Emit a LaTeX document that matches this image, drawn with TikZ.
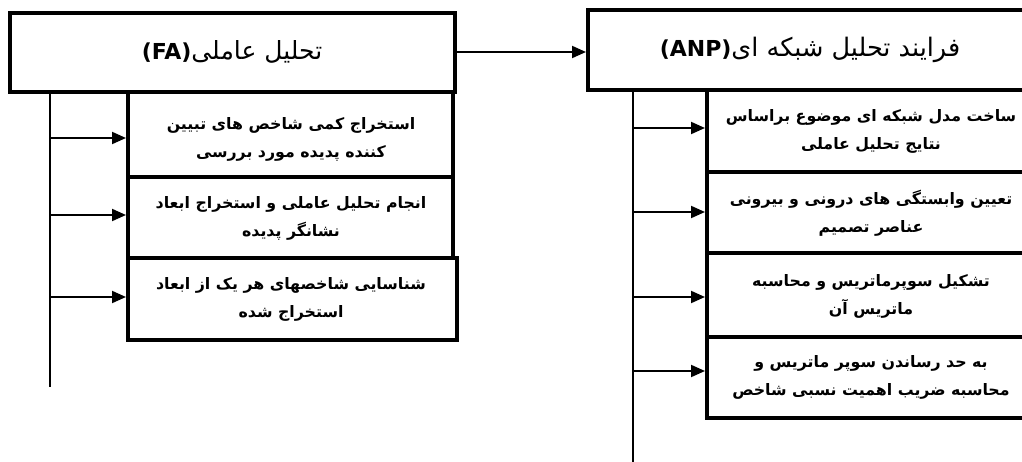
\documentclass[tikz,border=0pt]{standalone}
\usepackage{fontspec}
\usetikzlibrary{arrows.meta}
\TeXXeTstate=1
\newfontfamily\arabicfont[Script=Arabic]{DejaVu Sans}
\newfontfamily\latinfont{DejaVu Sans}
\begin{document}
\begin{tikzpicture}[x=1pt,y=-1pt,
  box/.style={draw, line width=4pt, inner sep=0pt, outer sep=0pt, anchor=north west},
  txt/.style={align=center, inner sep=0pt, font=\arabicfont\bfseries\fontsize{15.8}{28}\selectfont},
  ttl/.style={inner sep=0pt},
  conn/.style={line width=2pt, -{Triangle[length=14pt,width=12pt]}, shorten >=2pt},
  spine/.style={line width=2.6pt}]
\useasboundingbox (0,0) rectangle (1022,462);
\clip (0,0) rectangle (1022,462);
% left column
\node[box, minimum width=445pt, minimum height=79pt] (lt) at (10,13) {};
\node[ttl] (ltx) at (232,52) {{\latinfont\bfseries\fontsize{22}{26}\selectfont (FA)}{\arabicfont\fontsize{25}{28}\selectfont\beginR تحلیل عاملی\endR}};
\node[box, minimum width=325pt, minimum height=85pt] (l1) at (128,92) {};
\node[box, minimum width=325pt, minimum height=81pt] (l2) at (128,177) {};
\node[box, minimum width=329pt, minimum height=82pt] (l3) at (128,258) {};
\node[txt] (l1t) at (291,139) {\beginR استخراج کمی شاخص های تبیین\endR\\\beginR کننده پدیده مورد بررسی\endR};
\node[txt] (l2t) at (291,218) {\beginR انجام تحلیل عاملی و استخراج ابعاد\endR\\\beginR نشانگر پدیده\endR};
\node[txt] (l3t) at (291,299) {\beginR شناسایی شاخصهای هر یک از ابعاد\endR\\\beginR استخراج شده\endR};
\coordinate (lbot) at (50,387);
\coordinate (la1) at (50,138);
\coordinate (la2) at (50,215);
\coordinate (la3) at (50,297);
\draw[spine] (lt.south -| lbot) -- (lbot);
\draw[conn] (la1) -- (l1.west |- la1);
\draw[conn] (la2) -- (l2.west |- la2);
\draw[conn] (la3) -- (l3.west |- la3);
% right column
\node[box, minimum width=446pt, minimum height=80pt] (rt) at (588,10) {};
\node[ttl] (rtx) at (810,50) {{\latinfont\bfseries\fontsize{22}{26}\selectfont (ANP)}{\arabicfont\fontsize{25.5}{28}\selectfont\beginR فرایند تحلیل شبکه ای\endR}};
\node[box, minimum width=330pt, minimum height=82pt] (r1) at (707,90) {};
\node[box, minimum width=330pt, minimum height=81pt] (r2) at (707,172) {};
\node[box, minimum width=330pt, minimum height=84pt] (r3) at (707,253) {};
\node[box, minimum width=330pt, minimum height=81pt] (r4) at (707,337) {};
\node[txt] (r1t) at (871,131) {\beginR ساخت مدل شبکه ای موضوع براساس\endR\\\beginR نتایج تحلیل عاملی\endR};
\node[txt] (r2t) at (871,213) {\beginR تعیین وابستگی های درونی و بیرونی\endR\\\beginR عناصر تصمیم\endR};
\node[txt] (r3t) at (871,296) {\beginR تشکیل سوپرماتریس و محاسبه\endR\\\beginR ماتریس آن\endR};
\node[txt] (r4t) at (871,377) {\beginR به حد رساندن سوپر ماتریس و\endR\\\beginR محاسبه ضریب اهمیت نسبی شاخص\endR};
\coordinate (rbot) at (633,470);
\coordinate (ra1) at (633,128);
\coordinate (ra2) at (633,212);
\coordinate (ra3) at (633,297);
\coordinate (ra4) at (633,371);
\draw[spine] (rt.south -| rbot) -- (rbot);
\draw[conn] (ra1) -- (r1.west |- ra1);
\draw[conn] (ra2) -- (r2.west |- ra2);
\draw[conn] (ra3) -- (r3.west |- ra3);
\draw[conn] (ra4) -- (r4.west |- ra4);
% connector between titles
\draw[conn] (lt.east |- ltx) -- (rt.west |- ltx);
\end{tikzpicture}
\end{document}
